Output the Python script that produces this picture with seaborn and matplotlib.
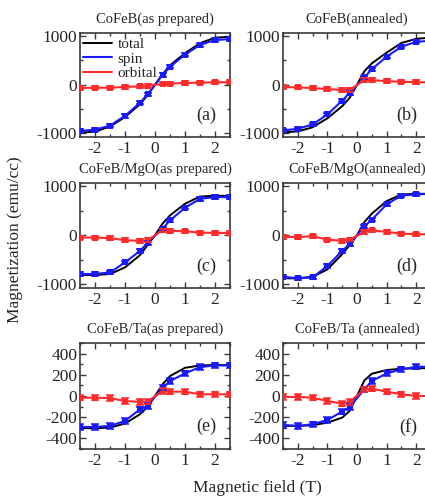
import numpy as np
import pandas as pd
import matplotlib
matplotlib.use("Agg")
import matplotlib.pyplot as plt
import seaborn as sns
from matplotlib.ticker import MultipleLocator
from matplotlib.lines import Line2D

# ---------------- data ----------------
field_total = [-2.5, -2, -1.5, -1, -0.5, -0.25, 0, 0.25, 0.5, 1, 1.5, 2, 2.5]
field_pts = [-2.5, -2, -1.5, -1, -0.5, -0.25, 0.25, 0.5, 1, 1.5, 2, 2.5]

titles = ["CoFeB(as prepared)", "CoFeB(annealed)",
          "CoFeB/MgO(as prepared)", "CoFeB/MgO(annealed)",
          "CoFeB/Ta(as prepared)", "CoFeB/Ta (annealed)"]
panel_tags = ["(a)", "(b)", "(c)", "(d)", "(e)", "(f)"]
legend_labels = ["total", "spin", "orbital"]

total_a = [-985, -965, -860, -665, -400, -215, 0, 215, 400, 650, 855, 970, 985]
spin_a = [-950, -925, -840, -640, -370, -200, 200, 370, 620, 820, 920, 940]
orb_a = [-65, -62, -60, -45, -35, -25, 20, 25, 35, 45, 50, 55]

total_b = [-980, -960, -875, -690, -440, -270, 0, 280, 440, 660, 860, 945, 970]
spin_b = [-940, -905, -816, -612, -326, -170, 150, 320, 578, 782, 884, 905]
orb_b = [-48, -54, -68, -88, -109, -110, 100, 95, 75, 61, 54, 48]

total_c = [-810, -810, -790, -655, -405, -200, 0, 236, 405, 642, 790, 804, 804]
spin_c = [-790, -790, -757, -554, -318, -155, 135, 304, 560, 743, 777, 777]
orb_c = [-47, -47, -60, -100, -115, -100, 100, 88, 81, 54, 47, 47]

total_d = [-878, -878, -845, -696, -385, -203, 0, 270, 440, 696, 831, 845, 845]
spin_d = [-845, -878, -858, -628, -318, -182, 182, 318, 628, 810, 831, 845]
orb_d = [-34, -34, -20, -88, -115, -88, 68, 100, 68, 34, 20, 20]

total_e = [-304, -304, -298, -260, -172, -103, 0, 110, 188, 266, 288, 292, 292]
spin_e = [-292, -292, -282, -235, -125, -94, 78, 141, 213, 273, 288, 288]
orb_e = [-16, -16, -20, -47, -56, -53, 47, 41, 41, 16, 16, 16]

total_f = [-282, -282, -276, -251, -204, -141, 0, 147, 210, 245, 257, 262, 262]
spin_f = [-273, -282, -266, -226, -147, -103, 63, 141, 213, 251, 276, 276]
orb_f = [-9, -9, -16, -47, -72, -56, 63, 69, 41, 16, 0, 0]

err_big = [35] * 12    # rows 1-2 (emu/cc)
err_small = [25] * 12  # row 3 (emu/cc)

totals = [total_a, total_b, total_c, total_d, total_e, total_f]
spins = [spin_a, spin_b, spin_c, spin_d, spin_e, spin_f]
orbs = [orb_a, orb_b, orb_c, orb_d, orb_e, orb_f]

# ---------------- style ----------------
sns.set_theme(style="ticks")
plt.rcParams['font.family'] = ['Liberation Serif', 'DejaVu Serif']
plt.rcParams['axes.unicode_minus'] = False

W, H = 425, 496
fig = plt.figure(figsize=(W / 100, H / 100), dpi=100)

col_x = [(80, 150), (283, 148)]
row_y = [(33, 137), (183, 288), (343, 449)]

BLUE = '#1a1aff'
RED = '#ff2a2a'
SPINE = '#3a3a3a'

for i in range(6):
    r, c = divmod(i, 2)
    x0, w = col_x[c]
    yt, yb = row_y[r]
    ax = fig.add_axes([x0 / W, 1 - yb / H, w / W, (yb - yt) / H])

    df_t = pd.DataFrame({"field": field_total, "M": totals[i]})
    df_s = pd.DataFrame({"field": field_pts, "M": spins[i]})
    df_o = pd.DataFrame({"field": field_pts, "M": orbs[i]})
    err = err_small if r == 2 else err_big

    sns.lineplot(data=df_t, x="field", y="M", ax=ax, color='black', lw=1.4,
                 legend=False, zorder=3)
    sns.lineplot(data=df_s, x="field", y="M", ax=ax, color=BLUE, lw=1.5,
                 marker='s', markersize=3.8, markeredgewidth=0,
                 legend=False, zorder=4)
    sns.lineplot(data=df_o, x="field", y="M", ax=ax, color=RED, lw=1.5,
                 marker='s', markersize=3.8, markeredgewidth=0,
                 legend=False, zorder=4)
    ax.errorbar(field_pts, spins[i], yerr=err, fmt='none', ecolor=BLUE,
                elinewidth=1.1, capsize=3, capthick=1.1, zorder=4)
    ax.errorbar(field_pts, orbs[i], yerr=err, fmt='none', ecolor=RED,
                elinewidth=1.1, capsize=3, capthick=1.1, zorder=4)

    ax.set_xlim(-2.5, 2.5)
    if r == 2:
        ax.set_ylim(-500, 500)
        ax.yaxis.set_major_locator(MultipleLocator(200))
        ax.yaxis.set_minor_locator(MultipleLocator(100))
    else:
        ax.set_ylim(-1075, 1065)
        ax.yaxis.set_major_locator(MultipleLocator(1000))
        ax.yaxis.set_minor_locator(MultipleLocator(500))
    ax.xaxis.set_major_locator(MultipleLocator(1))
    ax.xaxis.set_minor_locator(MultipleLocator(0.5))

    ax.set_xlabel("")
    ax.set_ylabel("")
    ax.tick_params(which='both', direction='in', top=True, right=True,
                   color=SPINE, width=1.0)
    ax.tick_params(which='major', length=4.5, labelsize=12.5)
    ax.tick_params(which='minor', length=2.5)
    ax.tick_params(axis='x', pad=3)
    ax.tick_params(axis='y', pad=2)
    for s in ax.spines.values():
        s.set_color(SPINE)
        s.set_linewidth(1.2)

    ax.set_title(titles[i], fontsize=10.5, pad=7)
    ax.text(0.91, 0.21, panel_tags[i], transform=ax.transAxes,
            ha='right', va='center', fontsize=13)

    if i == 0:
        handles = [Line2D([], [], color='black', lw=1.4),
                   Line2D([], [], color=BLUE, lw=1.5),
                   Line2D([], [], color=RED, lw=1.5)]
        ax.legend(handles, legend_labels, loc='upper left',
                  bbox_to_anchor=(-0.01, 1.0), frameon=False,
                  fontsize=11, handlelength=1.9, handletextpad=0.35,
                  labelspacing=0.05, borderpad=0.2, borderaxespad=0.1)

fig.text(257 / W, 1 - 488 / H, "Magnetic field (T)", ha='center', va='center',
         fontsize=12.5)
fig.text(15 / W, 1 - 240 / H, "Magnetization (emu/cc)", ha='center',
         va='center', rotation=90, fontsize=12.5)

fig.savefig("out.png", dpi=100)
